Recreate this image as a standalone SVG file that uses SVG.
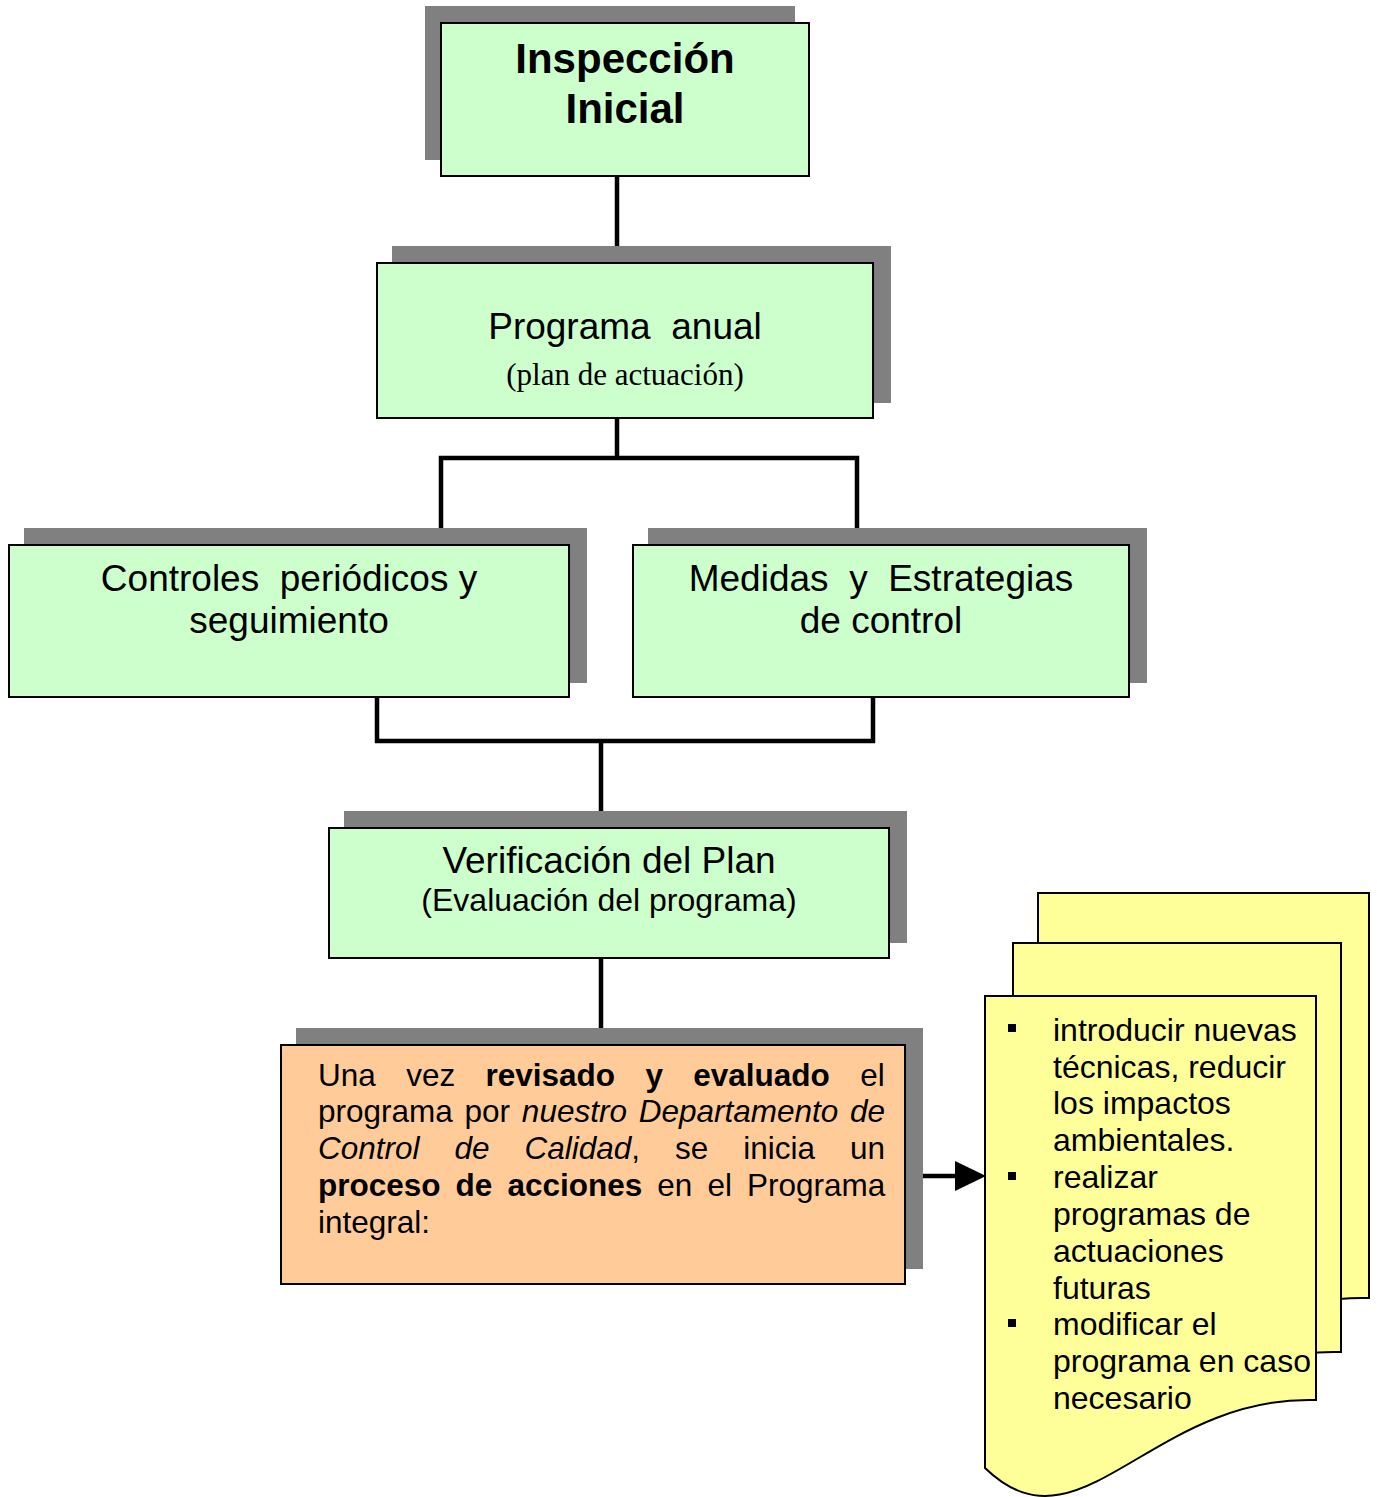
<svg xmlns="http://www.w3.org/2000/svg" width="1377" height="1497" viewBox="0 0 1377 1497">
<style>
.sh{fill:#808080;stroke:none}
.gb{fill:#CCFFCC;stroke:#000;stroke-width:2}
.ob{fill:#FFCC99;stroke:#000;stroke-width:2}
.doc{fill:#FFFF99;stroke:#000;stroke-width:2}
.t{font-family:"Liberation Sans",Arial,sans-serif;fill:#000}
.c{text-anchor:middle}
.con{fill:none;stroke:#000;stroke-width:4.5}
</style>
<rect width="1377" height="1497" fill="#fff"/>
<g id="connectors">
<path class="con" d="M617,176 V246"/>
<path class="con" d="M617,418 V458 M441,528 V458 H857 V528"/>
<path class="con" d="M377,697 V741 H873 V697 M601,741 V811"/>
<path class="con" d="M601,958 V1028"/>
<path class="con" d="M922,1176 H958"/>
<polygon points="955,1161 986,1176 955,1191" fill="#000"/>
</g>
<g id="inspeccion">
<rect class="sh" x="425" y="6" width="370" height="154"/>
<rect class="gb" x="441" y="23" width="368" height="153"/>
<text class="t c" x="625" y="73" font-size="42" font-weight="bold">Inspección</text>
<text class="t c" x="625" y="123" font-size="42" font-weight="bold">Inicial</text>
</g>
<g id="programa">
<rect class="sh" x="392" y="246" width="499" height="157"/>
<rect class="gb" x="377" y="263" width="496" height="155"/>
<text class="t c" x="625" y="339" font-size="37" xml:space="preserve">Programa  anual</text>
<text x="625" y="385" font-size="31" text-anchor="middle" font-family="'Liberation Serif','Times New Roman',serif">(plan de actuación)</text>
</g>
<g id="controles">
<rect class="sh" x="24" y="528" width="563" height="155"/>
<rect class="gb" x="9" y="545" width="560" height="152"/>
<text class="t c" x="289" y="591" font-size="37" xml:space="preserve">Controles  periódicos y</text>
<text class="t c" x="289" y="633" font-size="37">seguimiento</text>
</g>
<g id="medidas">
<rect class="sh" x="648" y="528" width="499" height="155"/>
<rect class="gb" x="633" y="545" width="496" height="152"/>
<text class="t c" x="881" y="591" font-size="37" xml:space="preserve">Medidas  y  Estrategias</text>
<text class="t c" x="881" y="633" font-size="37">de control</text>
</g>
<g id="verificacion">
<rect class="sh" x="344" y="811" width="563" height="132"/>
<rect class="gb" x="329" y="828" width="560" height="130"/>
<text class="t c" x="609" y="873" font-size="37">Verificación del Plan</text>
<text class="t c" x="609" y="911" font-size="32">(Evaluación del programa)</text>
</g>
<g id="proceso">
<rect class="sh" x="296" y="1028" width="627" height="241"/>
<rect class="ob" x="281" y="1045" width="624" height="239"/>
<g class="t" font-size="31.5">
<text x="318" y="1086" word-spacing="21.6">Una vez <tspan font-weight="bold">revisado y evaluado</tspan> el</text>
<text x="318" y="1122" word-spacing="3">programa por <tspan font-style="italic">nuestro Departamento de</tspan></text>
<text x="318" y="1159" word-spacing="26.2"><tspan font-style="italic">Control de Calidad</tspan>, se inicia un</text>
<text x="318" y="1196" word-spacing="6.3"><tspan font-weight="bold">proceso de acciones</tspan> en el Programa</text>
<text x="318" y="1233">integral:</text>
</g>
</g>
<g id="acciones">
<path class="doc" d="M1038,893 H1369 V1298 C1203,1293 1133,1458 1038,1366 Z"/>
<path class="doc" d="M1013,943 H1341 V1352 C1175,1347 1105,1512 1013,1420 Z"/>
<path class="doc" d="M985,996 H1316 V1400 C1150,1395 1080,1560 985,1468 Z"/>
<g fill="#000">
<rect x="1008" y="1024" width="8" height="8"/>
<rect x="1008" y="1172" width="8" height="8"/>
<rect x="1008" y="1319" width="8" height="8"/>
</g>
<g class="t" font-size="32">
<text x="1053" y="1041">introducir nuevas</text>
<text x="1053" y="1078">técnicas, reducir</text>
<text x="1053" y="1114">los impactos</text>
<text x="1053" y="1151">ambientales.</text>
<text x="1053" y="1188">realizar</text>
<text x="1053" y="1225">programas de</text>
<text x="1053" y="1262">actuaciones</text>
<text x="1053" y="1299">futuras</text>
<text x="1053" y="1335">modificar el</text>
<text x="1053" y="1372">programa en caso</text>
<text x="1053" y="1409">necesario</text>
</g>
</g>
</svg>
